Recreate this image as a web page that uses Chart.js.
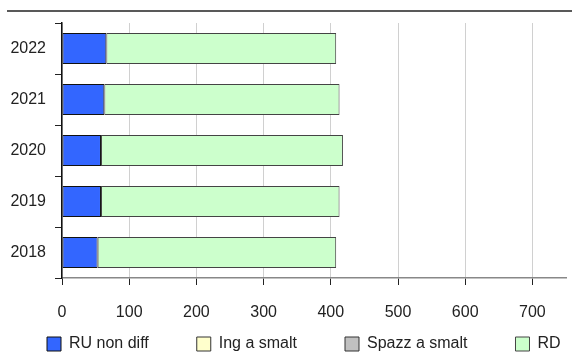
<!DOCTYPE html>
<html><head><meta charset="utf-8">
<script src="https://cdn.jsdelivr.net/npm/chart.js@4/dist/chart.umd.min.js"></script>
<style>html,body{margin:0;padding:0;background:#fff}canvas{display:block}</style>
</head><body>
<canvas id="c" width="573" height="353"></canvas>
<script>
const categories = ['2022','2021','2020','2019','2018'];
const ruNonDiff = [66, 63, 58, 58, 53];
const ingASmalt = [0, 0, 0, 0, 0];
const spazzASmalt = [0, 0, 0, 0, 0];
const rd = [342, 350, 360, 355, 355];
const xTicks = [0, 100, 200, 300, 400, 500, 600, 700];

const FONT = "'Liberation Sans', Arial, sans-serif";
const LEGEND_PAD = 48;
const LEGEND_FS = 16;

const topLine = {
  id: 'topLine',
  afterLayout(chart) {
    const lg = chart.legend;
    if (lg && lg.lineWidths) {
      lg.lineWidths = [lg.lineWidths.reduce((a, b) => a + b, 0)];
      lg.top = 344 - LEGEND_FS / 2 - LEGEND_PAD;
      lg.left = 47 - LEGEND_PAD;
      lg.right = 5000;
    }
  },
  afterDraw(chart) {
    const ctx = chart.ctx;
    ctx.save();
    ctx.strokeStyle = '#222';
    ctx.lineWidth = 1.5;
    ctx.beginPath();
    ctx.moveTo(7, 11);
    ctx.lineTo(572, 11);
    ctx.stroke();
    ctx.restore();
  }
};

new Chart(document.getElementById('c'), {
  type: 'bar',
  data: {
    labels: categories,
    datasets: [
      {label: 'RU non diff', data: ruNonDiff, backgroundColor: '#3366FF', borderColor: '#111', borderWidth: 1},
      {label: 'Ing a smalt', data: ingASmalt, backgroundColor: '#FFFFCC', borderColor: '#333', borderWidth: 1},
      {label: 'Spazz a smalt', data: spazzASmalt, backgroundColor: '#C0C0C0', borderColor: '#333', borderWidth: 1},
      {label: 'RD', data: rd, backgroundColor: '#CCFFCC', borderColor: '#444', borderWidth: 1}
    ]
  },
  options: {
    indexAxis: 'y',
    responsive: false,
    animation: false,
    layout: {padding: {top: 23, right: 7, left: 0, bottom: 0}},
    datasets: {bar: {barPercentage: 0.61, categoryPercentage: 1.0, borderSkipped: false}},
    plugins: {
      legend: {
        position: 'bottom',
        align: 'start',
        maxHeight: 29,
        labels: {
          font: {family: FONT, size: LEGEND_FS},
          color: '#222',
          boxWidth: 14,
          boxHeight: 14,
          padding: LEGEND_PAD
        }
      },
      tooltip: {enabled: false}
    },
    scales: {
      x: {
        stacked: true,
        min: 0,
        max: 750,
        afterBuildTicks: (s) => { s.ticks = xTicks.map(v => ({value: v})); },
        afterFit: (s) => { s.height = 46; },
        grid: {color: '#d0d0d0', tickColor: '#222', tickLength: 7, lineWidth: 1},
        border: {color: '#888', width: 1.5},
        ticks: {font: {family: FONT, size: 16}, color: '#222', padding: 18}
      },
      y: {
        stacked: true,
        afterFit: (s) => { s.width = 62; },
        grid: {drawOnChartArea: false, drawTicks: true, tickLength: 7, tickColor: '#222', offset: true},
        border: {color: '#111', width: 1.5},
        ticks: {font: {family: FONT, size: 16}, color: '#222', padding: 9}
      }
    }
  },
  plugins: [topLine]
});
</script>
</body></html>
